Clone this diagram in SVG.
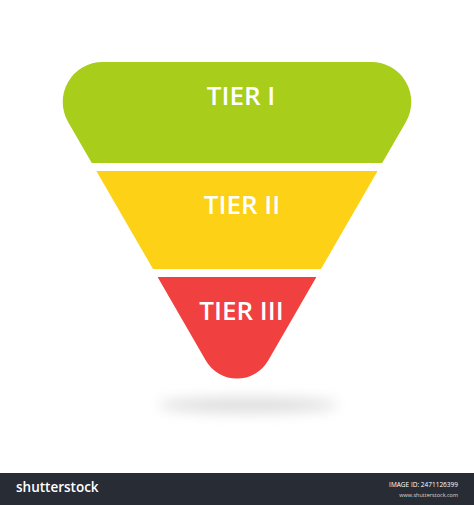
<svg xmlns="http://www.w3.org/2000/svg" width="474" height="505" viewBox="0 0 474 505">
  <defs>
    <filter id="blur" x="-50%" y="-200%" width="200%" height="500%">
      <feGaussianBlur stdDeviation="7"/>
    </filter>
  </defs>
  <style>
    .label { font-family: "Open Sans", "Liberation Sans", sans-serif; font-weight: 600; font-size: 26px; fill: #ffffff; text-anchor: middle; }
    .bar-text { font-family: "Open Sans", "Liberation Sans", sans-serif; fill: #ffffff; }
  </style>
  <rect x="0" y="0" width="474" height="505" fill="#ffffff"/>
  <ellipse cx="248" cy="405" rx="90" ry="7" fill="#dadada" filter="url(#blur)"/>
  <g id="tier1">
    <path d="M102.8,62 L371.2,62 A40,40 0 0 1 405.9,122 L382.2,163 L91.8,163 L68.1,122 A40,40 0 0 1 102.8,62 Z" fill="#a8cd1a"/>
    <text class="label" x="241" y="105">TIER I</text>
  </g>
  <g id="tier2">
    <path d="M96.4,171 L377.6,171 L321,269 L153,269 Z" fill="#fcd116"/>
    <text class="label" x="242" y="214">TIER II</text>
  </g>
  <g id="tier3">
    <path d="M157.6,277 L316.4,277 L268.2,360.5 A36,36 0 0 1 205.8,360.5 Z" fill="#f0403f"/>
    <text class="label" x="241.5" y="320">TIER III</text>
  </g>
  <g id="connectors"/>
  <g id="footer">
    <rect x="0" y="473" width="474" height="32" fill="#282c35"/>
    <text class="bar-text" x="16" y="492" font-size="13.5" font-weight="600">shutterstock</text>
    <text class="bar-text" x="458" y="487" font-size="6.5" text-anchor="end">IMAGE ID: 2471126399</text>
    <text class="bar-text" x="458" y="497" font-size="5.5" text-anchor="end" fill-opacity="0.8">www.shutterstock.com</text>
  </g>
</svg>
